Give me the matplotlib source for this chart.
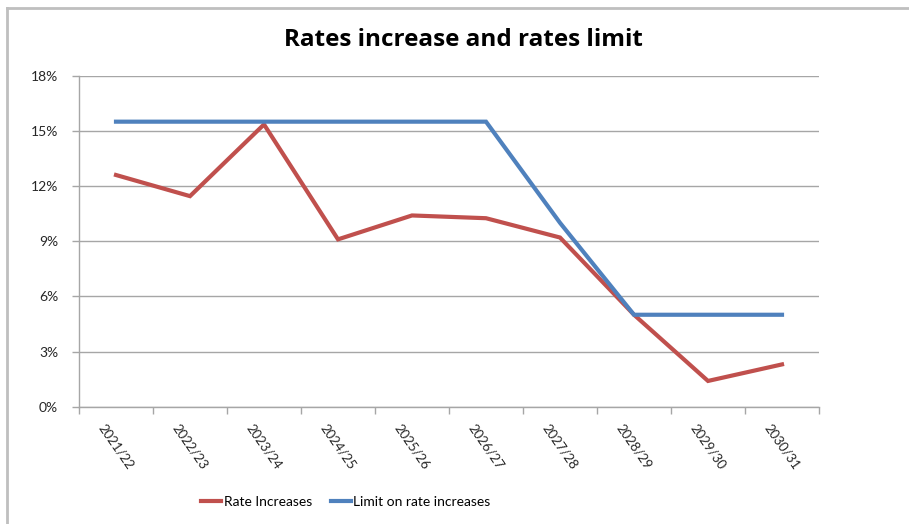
import matplotlib
matplotlib.use("Agg")
import matplotlib.pyplot as plt
from matplotlib.ticker import FuncFormatter, FixedLocator
from matplotlib.lines import Line2D

categories = ["2021/22", "2022/23", "2023/24", "2024/25", "2025/26",
              "2026/27", "2027/28", "2028/29", "2029/30", "2030/31"]
rate_increases = [12.6, 11.45, 15.35, 9.1, 10.4, 10.25, 9.2, 5.0, 1.4, 2.3]
limit_increases = [15.5, 15.5, 15.5, 15.5, 15.5, 15.5, 10.0, 5.0, 5.0, 5.0]
y_ticks = [0, 3, 6, 9, 12, 15, 18]

plt.rcParams['font.family'] = ['Lato', 'DejaVu Sans']

fig = plt.figure(figsize=(9.09, 5.24), dpi=100)
ax = fig.add_axes([79/909, 1-406.7/524, (819-79)/909, (406.7-75.7)/524])

x = list(range(len(categories)))
red = "#C0504D"
blue = "#4F81BD"
ax.plot(x, rate_increases, color=red, lw=3, solid_joinstyle='miter', label="Rate Increases", zorder=3)
ax.plot(x, limit_increases, color=blue, lw=3, solid_joinstyle='miter', label="Limit on rate increases", zorder=3)

ax.set_xlim(-0.5, len(categories) - 0.5)
ax.set_ylim(0, 18)
ax.set_yticks(y_ticks)
ax.yaxis.set_major_formatter(FuncFormatter(lambda v, p: f"{int(v)}%"))
ax.grid(axis='y', color='#A6A6A6', lw=1)
ax.set_axisbelow(True)

ax.xaxis.set_major_locator(FixedLocator([i - 0.5 for i in range(len(categories) + 1)]))
ax.xaxis.set_major_formatter(FuncFormatter(lambda v, p: ""))
ax.set_xticks(x, minor=True)
ax.set_xticklabels(categories, minor=True, rotation=-55, ha='center', va='top',
                   fontsize=9.5, color='#262626')
ax.tick_params(axis='x', which='minor', length=0, pad=11)
ax.tick_params(axis='x', which='major', length=5, color='#A6A6A6', width=1)
ax.tick_params(axis='y', length=5, color='#A6A6A6', width=1, labelsize=10,
               labelcolor='#262626', pad=10)

for s in ['top', 'right']:
    ax.spines[s].set_visible(False)
for s in ['left', 'bottom']:
    ax.spines[s].set_color('#A6A6A6')
    ax.spines[s].set_linewidth(1)

fig.text(463/909, 1-40/524, "Rates increase and rates limit", ha='center', va='center',
         fontsize=17.5, fontweight='bold', color='black', family=['Open Sans', 'DejaVu Sans'])

handles = [Line2D([], [], color=red, lw=3), Line2D([], [], color=blue, lw=3)]
fig.legend(handles, ["Rate Increases", "Limit on rate increases"], loc='center',
           bbox_to_anchor=(346/909, 1-502/524), ncol=2, frameon=False, fontsize=10,
           handlelength=1.4, handletextpad=0.2, columnspacing=1.4)

# chart border (cropped Excel chart area)
fig.add_artist(Line2D([7/909, 7/909], [0, 1-8/524], transform=fig.transFigure,
                      color='#BFBFBF', lw=2))
fig.add_artist(Line2D([7/909, 1], [1-8/524, 1-8/524], transform=fig.transFigure,
                      color='#BFBFBF', lw=2))

fig.savefig("out.png", dpi=100)
